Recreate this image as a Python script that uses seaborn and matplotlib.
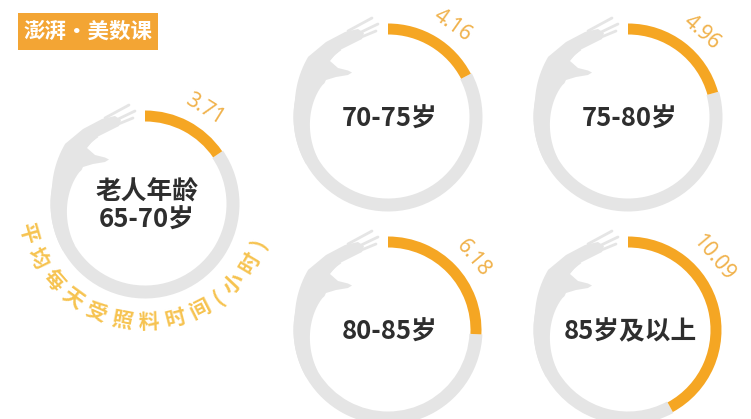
import numpy as np
import matplotlib
matplotlib.use("Agg")
import matplotlib.pyplot as plt
from matplotlib.patches import Wedge, Polygon, Rectangle
import seaborn as sns

# ---- data ----
groups = ["老人年龄\n65-70岁", "70-75岁", "75-80岁", "80-85岁", "85岁及以上"]
hours = [3.71, 4.16, 4.96, 6.18, 10.09]
max_hours = 24
axis_title = "平均每天受照料时间(小时)"
logo_text = "澎湃·美数课"

sns.set_theme(style="white")
plt.rcParams['font.family'] = ['Noto Sans CJK SC', 'DejaVu Sans']

W, H = 751, 419
fig = plt.figure(figsize=(W / 100, H / 100), dpi=100)
ax = fig.add_axes([0, 0, 1, 1])
ax.set_xlim(0, W)
ax.set_ylim(0, H)
ax.set_aspect('equal')
ax.axis('off')

palette = sns.color_palette(["#F5A623", "#E5E5E5", "#F0B24C", "#F6C350", "#2E2E2E"])
orange, gray, label_col, title_col, text_col = palette

# layout (pixel centres of rings, y measured upward)
centers = [(145, 215), (388, 302), (628, 302), (388, 89), (628, 89)]
R = 88.0
ring_w = 13.0
arc_w = 11.0

def hand(cx, cy):
    pts = []
    for th in np.linspace(210, 143, 30):
        r = 94.5 + max(0, (170 - th) / 27) * 5.5
        pts.append((r * np.cos(np.radians(th)), r * np.sin(np.radians(th))))
    pts += [(-62, 75), (-43, 85), (-30, 88), (-24, 84), (-26, 78),
            (-50, 66), (-58, 56), (-50, 49), (-40, 46.5), (-36, 44.5),
            (-40, 42), (-52, 40), (-62, 37)]
    for th in np.linspace(152, 210, 25):
        r = 72 + (81.5 - 72) * ((th - 152) / 58) ** 0.7
        pts.append((r * np.cos(np.radians(th)), r * np.sin(np.radians(th))))
    pts = np.array(pts) + np.array([cx, cy])
    ax.add_patch(Polygon(pts, closed=True, facecolor=gray, edgecolor='none', zorder=2))
    fingers = [((-40, 86), (-16, 99)), ((-33, 82), (-10, 93)), ((-29, 79), (-12, 86))]
    for (x0, y0), (x1, y1) in fingers:
        ax.plot([cx + x0, cx + x1], [cy + y0, cy + y1], color=gray, lw=2.0,
                solid_capstyle='round', zorder=2)

for (cx, cy), v, g in zip(centers, hours, groups):
    span = v / max_hours * 360
    # gray ring
    ax.add_patch(Wedge((cx, cy), R + ring_w / 2, 125, 90 - span + 360,
                       width=ring_w, facecolor=gray, edgecolor='none', zorder=1))
    hand(cx, cy)
    # orange arc
    ax.add_patch(Wedge((cx, cy), R + arc_w / 2, 90 - span, 90,
                       width=arc_w, facecolor=orange, edgecolor='none', zorder=3))
    # value label
    phi = min(span / 2 + 4, 50)
    th = np.radians(90 - phi)
    ax.text(cx + 112 * np.cos(th), cy + 112 * np.sin(th), f"{v:.2f}",
            rotation=-phi, rotation_mode='anchor', ha='center', va='center',
            fontsize=15, color=label_col, family=['Noto Sans', 'DejaVu Sans'],
            zorder=4)
    ax.text(cx + 2, cy - 2, g, ha='center', va='center', fontsize=18.5,
            color=text_col, fontweight='bold', linespacing=1.05, zorder=4)

# curved axis title around first ring
tcx, tcy, tr = 145, 219, 122
chars = list(axis_title)
adv = np.array([0.55 if c in "()" else 1.0 for c in chars])
pos = np.cumsum(adv) - adv / 2
pos = pos / pos[-1]
a0, a1 = -164, -21
for ch, p in zip(chars, pos):
    a = a0 + (a1 - a0) * (p - pos[0]) / (1 - pos[0])
    t = np.radians(a)
    ax.text(tcx + tr * np.cos(t), tcy + tr * np.sin(t), ch, rotation=a + 90,
            rotation_mode='anchor', ha='center', va='center', fontsize=15,
            color=title_col, fontweight='bold', zorder=4)

# logo
ax.add_patch(Rectangle((18, 369), 140, 37, facecolor="#F3A534", edgecolor='none', zorder=4))
ax.text(88, 387.5, logo_text, ha='center', va='center', fontsize=15.5,
        color='white', fontweight='bold', zorder=5)

fig.savefig("out.png", dpi=100, facecolor='white')
